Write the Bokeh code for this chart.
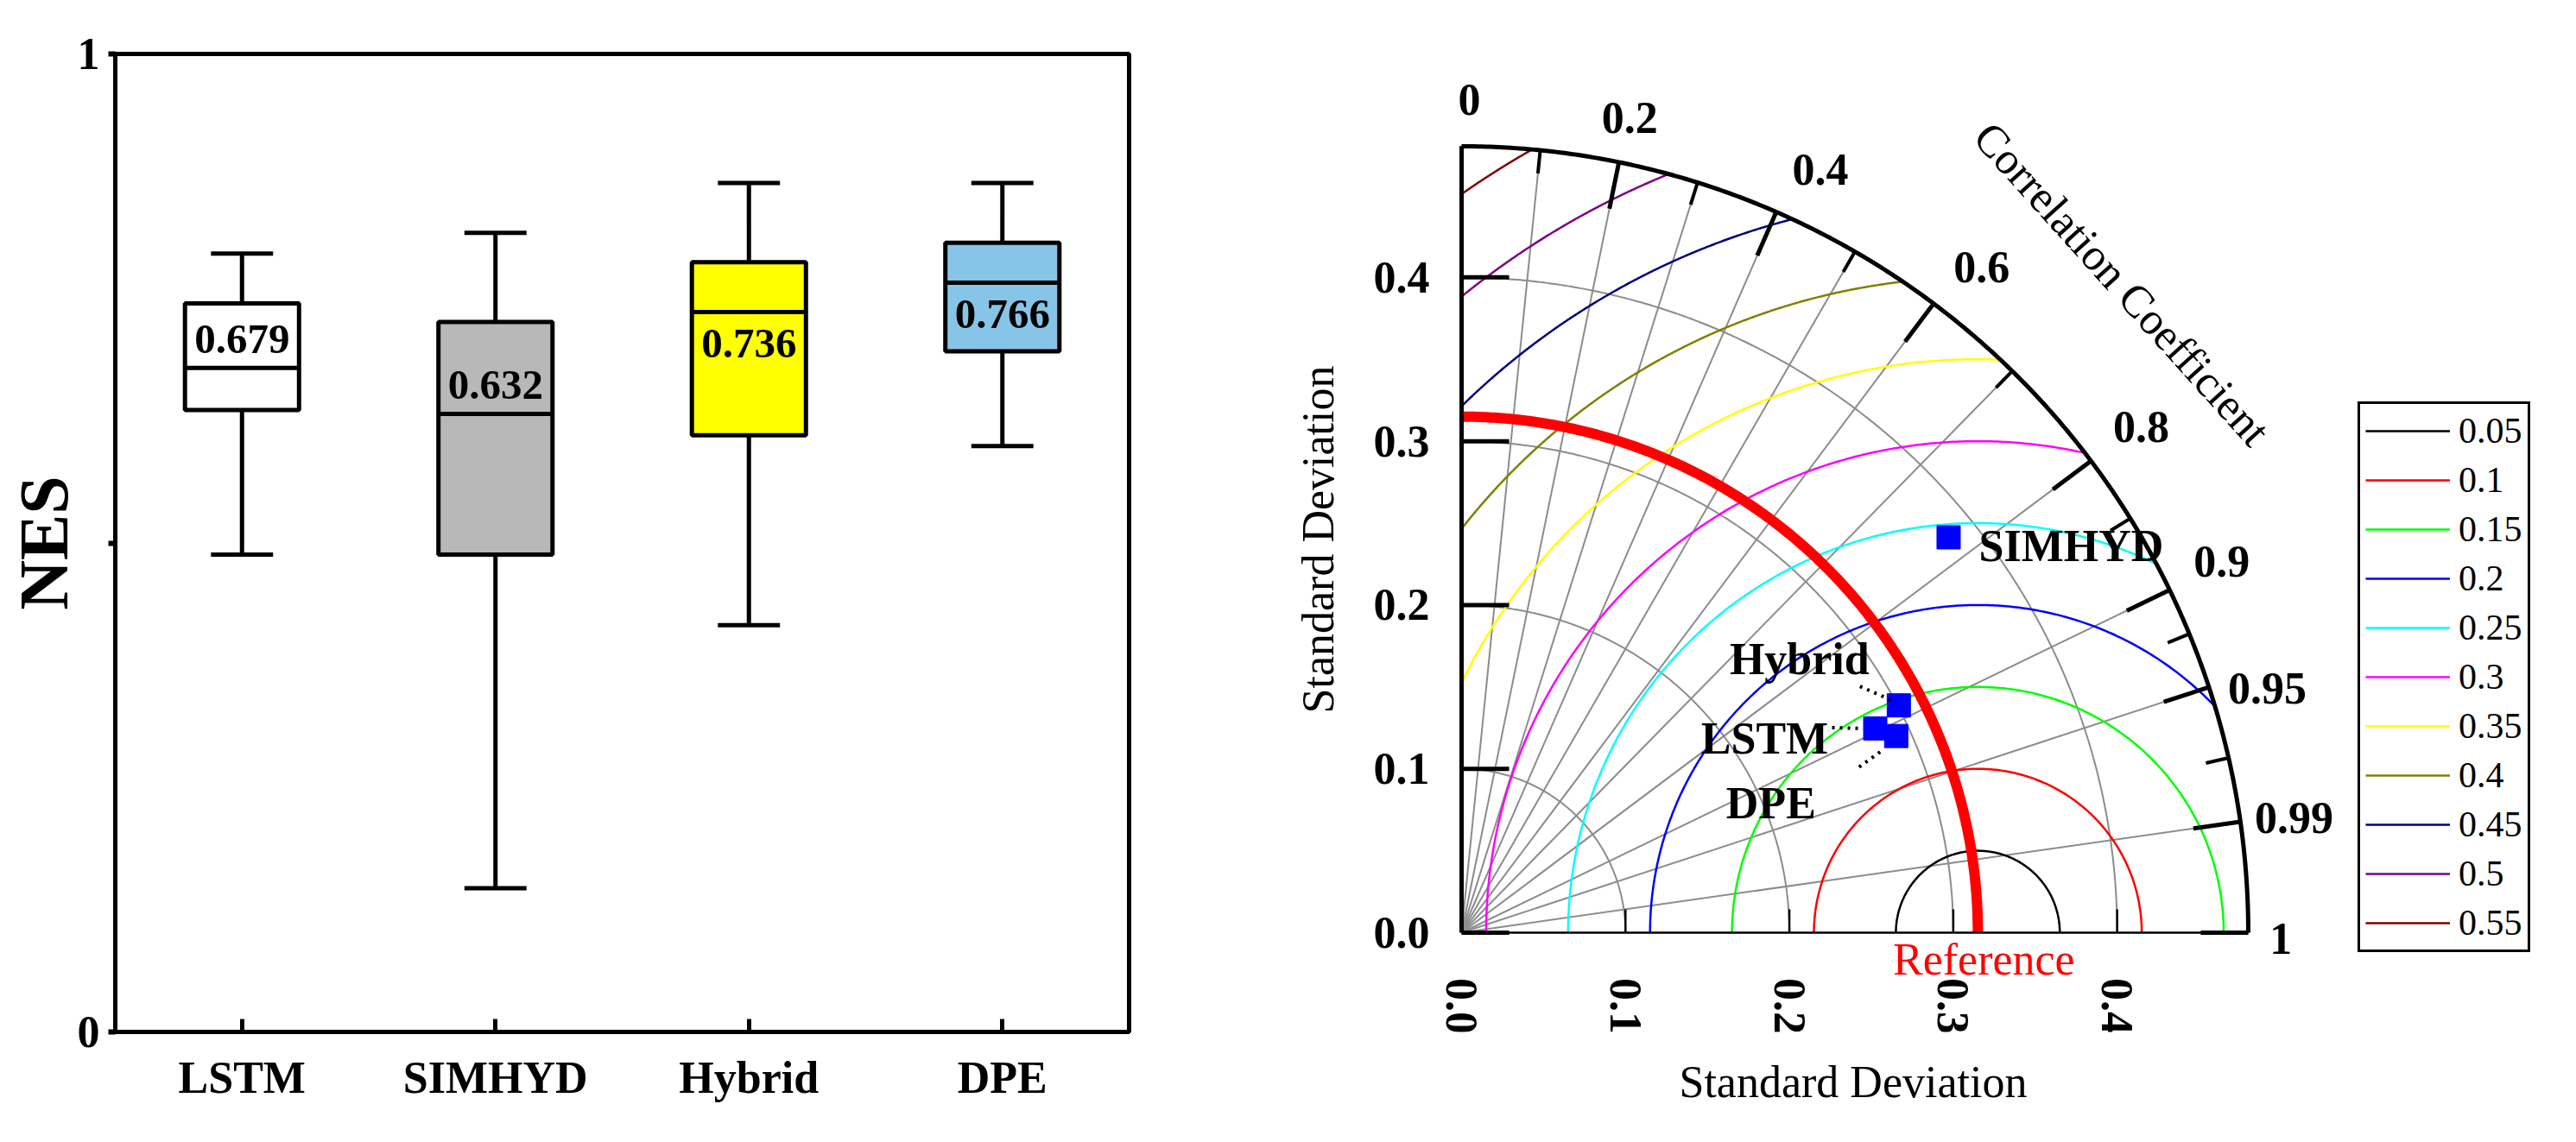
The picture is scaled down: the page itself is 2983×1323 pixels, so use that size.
import numpy as np
from bokeh.plotting import figure
from bokeh.models import (Range1d, FixedTicker, Legend, LegendItem, ColumnDataSource,
                          LabelSet, Title)
from bokeh.layouts import row
from bokeh.embed import file_html
from bokeh.resources import INLINE
from bokeh.core.properties import value

# ---------------- data: box plot (NES) ----------------
models = ["LSTM", "SIMHYD", "Hybrid", "DPE"]
whisker_low = [0.488, 0.147, 0.416, 0.599]
q1 = [0.636, 0.488, 0.610, 0.696]
median = [0.679, 0.632, 0.736, 0.766]
q3 = [0.745, 0.726, 0.787, 0.807]
whisker_high = [0.796, 0.817, 0.868, 0.868]
median_labels = ["0.679", "0.632", "0.736", "0.766"]
box_colors = ["#FFFFFF", "#B8B8B8", "#FFFF00", "#87C5E8"]
label_side = ["above", "above", "below", "below"]
nes_ticks = [0, 0.5, 1]
nes_tick_labels = ["0", "", "1"]

# ---------------- data: Taylor diagram ----------------
taylor_models = ["LSTM", "SIMHYD", "Hybrid", "DPE"]
taylor_std = [0.2815, 0.3828, 0.3007, 0.2911]
taylor_corr = [0.8966, 0.7763, 0.8872, 0.9110]
ref_std = 0.315
std_max = 0.48
std_ticks = [0.0, 0.1, 0.2, 0.3, 0.4]
std_tick_labels = ["0.0", "0.1", "0.2", "0.3", "0.4"]
std_arcs = [0.1, 0.2, 0.3, 0.4]
corr_major = [0.0, 0.2, 0.4, 0.6, 0.8, 0.9, 0.95, 0.99, 1.0]
corr_major_labels = ["0", "0.2", "0.4", "0.6", "0.8", "0.9", "0.95", "0.99", "1"]
corr_minor = [0.1, 0.3, 0.5, 0.7, 0.85, 0.925, 0.975]
corr_lines = [0.1, 0.2, 0.3, 0.4, 0.5, 0.6, 0.7, 0.8, 0.9, 0.95, 0.99]
rms_levels = [0.05, 0.1, 0.15, 0.2, 0.25, 0.3, 0.35, 0.4, 0.45, 0.5, 0.55]
rms_labels = ["0.05", "0.1", "0.15", "0.2", "0.25", "0.3", "0.35", "0.4", "0.45", "0.5", "0.55"]
rms_colors = ["#000000", "#FF0000", "#00FF00", "#0000FF", "#00FFFF", "#FF00FF",
              "#FFFF00", "#808000", "#000080", "#800080", "#800000"]

FONT = "Liberation Serif"

# shared frame geometry (page pixels)
H = 1320
FRAME_TOP = 62
FRAME_BOTTOM = 1195
B_TOP = FRAME_TOP
B_BOTTOM = H - FRAME_BOTTOM

# ================= left panel: box plot =================
W1 = 1428
p1 = figure(width=W1, height=H, x_range=Range1d(0.5, 4.5), y_range=Range1d(0, 1),
            output_backend="svg", toolbar_location=None,
            min_border_left=133, min_border_right=W1 - 1307,
            min_border_top=B_TOP, min_border_bottom=B_BOTTOM)
p1.grid.visible = False
p1.outline_line_color = "black"
p1.outline_line_width = 5

xs = np.arange(1, len(models) + 1)
lw = 5
p1.segment(xs, q3, xs, whisker_high, line_width=lw, line_color="black")
p1.segment(xs, q1, xs, whisker_low, line_width=lw, line_color="black")
p1.vbar(x=xs, width=0.45, bottom=q1, top=q3, fill_color=box_colors,
        line_color="black", line_width=lw)
p1.segment(xs - 0.225, median, xs + 0.225, median, line_width=lw, line_color="black")
p1.segment(xs - 0.1225, whisker_high, xs + 0.1225, whisker_high, line_width=lw, line_color="black")
p1.segment(xs - 0.1225, whisker_low, xs + 0.1225, whisker_low, line_width=lw, line_color="black")

lab_src = ColumnDataSource(dict(
    x=xs, y=median, t=median_labels,
    yo=[-33 if s == "above" else 36 for s in label_side]))
p1.text(x="x", y="y", text="t", y_offset="yo", source=lab_src,
        text_font=value(FONT), text_font_style="bold", text_font_size="49px",
        text_align="center", text_baseline="middle", text_color="black")

xa = p1.xaxis[0]
xa.ticker = FixedTicker(ticks=list(xs))
xa.major_label_overrides = {int(i): m for i, m in zip(xs, models)}
xa.major_tick_in = 15
xa.major_tick_out = 0
xa.minor_tick_line_color = None
xa.major_tick_line_width = 5
xa.axis_line_width = 5
xa.major_label_text_font = FONT
xa.major_label_text_font_style = "bold"
xa.major_label_text_font_size = "52px"
xa.major_label_text_color = "black"
xa.major_label_standoff = 24

ya = p1.yaxis[0]
ya.ticker = FixedTicker(ticks=nes_ticks)
ya.major_label_overrides = {t: l for t, l in zip(nes_ticks, nes_tick_labels)}
ya.major_tick_in = 0
ya.major_tick_out = 8
ya.major_tick_line_width = 6
ya.minor_tick_line_color = None
ya.axis_line_width = 5
ya.major_label_text_font = FONT
ya.major_label_text_font_style = "bold"
ya.major_label_text_font_size = "52px"
ya.major_label_text_color = "black"
ya.major_label_standoff = 10
ya.axis_label = "NES"
ya.axis_label_text_font = FONT
ya.axis_label_text_font_style = "bold"
ya.axis_label_text_font_size = "80px"
ya.axis_label_text_color = "black"
ya.axis_label_standoff = -8

# ================= right panel: Taylor diagram =================
W2 = 1550
S = 911.0 / std_max          # pixels per std unit
fig_left_page = W1
ox_page, oy_page = 1692.0, 1080.0   # origin of the diagram on the page
x0 = (fig_left_page - ox_page) / S
x1 = x0 + W2 / S
y1 = (oy_page - FRAME_TOP) / S
y0 = y1 - (FRAME_BOTTOM - FRAME_TOP) / S
p2 = figure(width=W2, height=H, x_range=Range1d(x0, x1), y_range=Range1d(y0, y1),
            output_backend="svg", toolbar_location=None,
            min_border_left=0, min_border_right=0,
            min_border_top=B_TOP, min_border_bottom=B_BOTTOM,
            x_axis_location=None, y_axis_location=None)
p2.grid.visible = False
p2.outline_line_color = None

th = np.linspace(0, np.pi / 2, 300)
GRAY = "#8C8C8C"
p2.multi_line([list(s * np.cos(th)) for s in std_arcs], [list(s * np.sin(th)) for s in std_arcs],
              line_color=GRAY, line_width=2)
p2.multi_line([[0, std_max * c] for c in corr_lines],
              [[0, std_max * np.sqrt(1 - c * c)] for c in corr_lines],
              line_color=GRAY, line_width=2)

# RMS contours centred on the reference point, clipped to the quarter disc
legend_items = []
for d, lab, col in zip(rms_levels, rms_labels, rms_colors):
    c = ref_std
    if c + d <= std_max:
        tmin = 0.0
    else:
        tmin = np.arccos((std_max ** 2 - c ** 2 - d ** 2) / (2 * c * d))
    tmax = np.pi if c - d >= 0 else np.arccos(-c / d)
    tt = np.linspace(tmin, tmax, 300)
    r = p2.line(c + d * np.cos(tt), d * np.sin(tt), line_color=col, line_width=2.5)
    legend_items.append(LegendItem(label=lab, renderers=[r]))

# reference std arc
p2.line(ref_std * np.cos(th), ref_std * np.sin(th), line_color="#FF0000", line_width=12)

# frame: outer arc, left axis, bottom axis
p2.line(std_max * np.cos(th), std_max * np.sin(th), line_color="black", line_width=5)
p2.segment([0], [0], [0], [std_max], line_color="black", line_width=5)
p2.segment([0], [0], [std_max], [0], line_color="black", line_width=2.5)

# correlation ticks (inward)
maj_len, min_len = 0.029, 0.0142
ang_M = np.arccos(corr_major)
ang_m = np.arccos(corr_minor)
p2.segment(std_max * np.cos(ang_M), std_max * np.sin(ang_M),
           (std_max - maj_len) * np.cos(ang_M), (std_max - maj_len) * np.sin(ang_M),
           line_color="black", line_width=5)
p2.segment(std_max * np.cos(ang_m), std_max * np.sin(ang_m),
           (std_max - min_len) * np.cos(ang_m), (std_max - min_len) * np.sin(ang_m),
           line_color="black", line_width=4)
# std ticks
st = np.array(std_ticks)
p2.segment(np.zeros_like(st), st, np.full_like(st, maj_len), st, line_color="black", line_width=5)
p2.segment(st[1:], np.zeros(len(st) - 1), st[1:], np.full(len(st) - 1, min_len),
           line_color="black", line_width=2.5)

# model points
tstd = np.array(taylor_std)
tcor = np.array(taylor_corr)
mx = tstd * tcor
my = tstd * np.sqrt(1 - tcor ** 2)
p2.scatter(mx, my, marker="square", size=27, fill_color="#0000FF", line_color="#0000FF")

# leader dots (pixel offsets from each marker, screen y downwards)
lead = {"Hybrid": ((-45, -22), (-6, -5)), "LSTM": ((-50, -1), (-16, 0)), "DPE": ((-43, 36), (-15, 16))}
lx0, ly0, lx1, ly1 = [], [], [], []
for name, x_, y_ in zip(taylor_models, mx, my):
    if name in lead:
        (a0, b0), (a1, b1) = lead[name]
        lx0.append(x_ + a0 / S); ly0.append(y_ - b0 / S)
        lx1.append(x_ + a1 / S); ly1.append(y_ - b1 / S)
p2.segment(lx0, ly0, lx1, ly1, line_color="black", line_width=4, line_dash="3 6")

# model labels
offs = {"LSTM": (-128, 12, "center"), "SIMHYD": (35, 10, "left"),
        "Hybrid": (-115, -54, "center"), "DPE": (-145, 78, "center")}
for name, x_, y_ in zip(taylor_models, mx, my):
    ox, oy, al = offs[name]
    p2.text([x_], [y_], text=[name], x_offset=ox, y_offset=oy,
            text_font=value(FONT), text_font_style="bold", text_font_size="52px",
            text_align=al, text_baseline="middle", text_color="black")

# correlation tick labels (with small per-label nudges in screen pixels)
rl = 0.513
nudge_x = [9, 0, 26, 18, 8, 4, 8, 0, -25]
nudge_y = [9, 10, 8, 8, -2, -6, 21, 4, 7]
csrc = ColumnDataSource(dict(x=rl * np.cos(ang_M), y=rl * np.sin(ang_M), t=corr_major_labels,
                             dx=nudge_x, dy=nudge_y))
p2.text(x="x", y="y", text="t", x_offset="dx", y_offset="dy", source=csrc,
        text_font=value(FONT), text_font_style="bold", text_font_size="52px",
        text_align="center", text_baseline="middle", text_color="black")
# std tick labels on the left axis
p2.text(np.zeros_like(st), st, text=std_tick_labels, x_offset=-37,
        text_font=value(FONT), text_font_style="bold", text_font_size="52px",
        text_align="right", text_baseline="middle", text_color="black")
# std tick labels below the bottom axis
bsrc = ColumnDataSource(dict(x=st, y=np.full_like(st, -85 / S), t=std_tick_labels))
p2.add_layout(LabelSet(x="x", y="y", text="t", source=bsrc, angle=-np.pi / 2,
                       text_font=FONT, text_font_style="bold", text_font_size="52px",
                       text_align="center", text_baseline="middle", text_color="black"))

# titles
p2.text([0], [std_max / 2], text=["Standard Deviation"], x_offset=-166, angle=np.pi / 2,
        text_font=value(FONT), text_font_size="52px",
        text_align="center", text_baseline="middle", text_color="black")
p2.add_layout(Title(text="Standard Deviation", align="left", offset=516, standoff=54,
                    text_font=FONT, text_font_size="52px", text_font_style="normal",
                    text_color="black"), "below")
p2.text([0.565 * np.cos(np.radians(44.5))], [0.565 * np.sin(np.radians(44.5))],
        text=["Correlation Coefficient"], angle=np.radians(-48),
        text_font=value(FONT), text_font_size="52px",
        text_align="center", text_baseline="middle", text_color="black")
p2.text([ref_std], [0], text=["Reference"], x_offset=7, y_offset=2,
        text_font=value(FONT), text_font_size="52px",
        text_align="center", text_baseline="top", text_color="#FF0000")

legend = Legend(items=legend_items, location=(2730 - fig_left_page, FRAME_BOTTOM - 1103),
                label_text_font=FONT, label_text_font_size="42px", label_text_color="black",
                glyph_width=98, glyph_height=50, label_height=50, spacing=7,
                padding=6, margin=0, label_standoff=10,
                border_line_color="black", border_line_width=3, border_line_alpha=1,
                background_fill_color="white", background_fill_alpha=1)
p2.add_layout(legend)

layout = row(p1, p2)
open("out.html", "w").write(file_html(layout, INLINE))
